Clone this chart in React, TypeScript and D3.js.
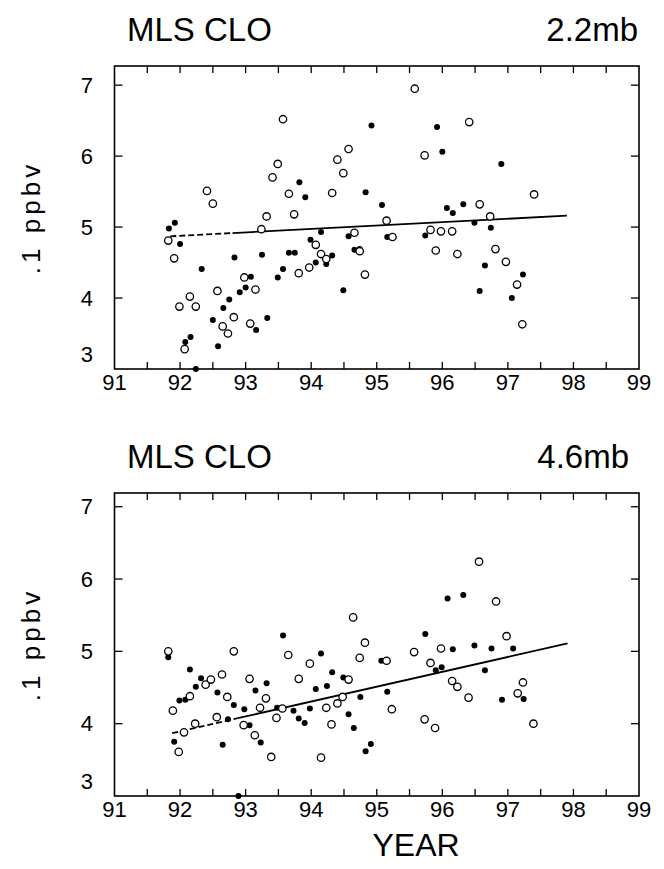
import React from 'react';
import * as d3 from 'd3';

// [year, value] pairs (.1 ppbv)
const topFilled = [
  [91.83, 4.98], [91.92, 5.06], [92.0, 4.76], [92.33, 4.41], [92.08, 3.38], [92.16, 3.45],
  [92.24, 3.0], [92.83, 4.57], [93.08, 4.3], [93.0, 4.15], [92.91, 4.08], [92.75, 3.98],
  [92.66, 3.86], [92.5, 3.69], [93.16, 3.55], [92.58, 3.32], [93.33, 3.72], [93.25, 4.61],
  [93.66, 4.64], [93.75, 4.64], [93.57, 4.41], [93.49, 4.29], [93.82, 5.63], [93.91, 5.42],
  [94.83, 5.49], [94.92, 6.43], [95.08, 5.31], [95.16, 4.86], [94.15, 4.93], [93.99, 4.82],
  [94.32, 4.6], [94.07, 4.5], [94.23, 4.48], [94.57, 4.87], [94.66, 4.68], [94.74, 4.69],
  [94.49, 4.11], [95.92, 6.41], [96.0, 6.06], [96.07, 5.27], [96.16, 5.2], [96.32, 5.32],
  [95.74, 4.88], [96.49, 5.06], [96.65, 4.46], [96.57, 4.1], [96.74, 4.99], [96.9, 5.89],
  [97.23, 4.33], [97.06, 4.0],
];

const topOpen = [
  [91.82, 4.81], [91.91, 4.56], [92.41, 5.51], [92.5, 5.33], [92.15, 4.02], [91.99, 3.88],
  [92.24, 3.88], [92.07, 3.28], [92.57, 4.1], [92.98, 4.29], [93.15, 4.12], [92.82, 3.73],
  [92.65, 3.6], [92.73, 3.5], [93.07, 3.64], [93.24, 4.97], [93.32, 5.15], [93.57, 6.52],
  [93.49, 5.89], [93.41, 5.7], [93.66, 5.47], [93.74, 5.18], [93.81, 4.35], [94.32, 5.48],
  [94.4, 5.95], [94.57, 6.1], [94.49, 5.76], [95.15, 5.09], [95.24, 4.86], [94.07, 4.75],
  [94.15, 4.62], [94.23, 4.55], [93.97, 4.43], [94.66, 4.92], [94.74, 4.66], [94.82, 4.33],
  [95.58, 6.95], [95.73, 6.01], [96.57, 5.32], [96.41, 6.48], [95.82, 4.96], [95.98, 4.94],
  [96.15, 4.94], [95.9, 4.67], [96.23, 4.62], [96.73, 5.15], [97.4, 5.46], [96.81, 4.69],
  [96.97, 4.51], [97.14, 4.19], [97.22, 3.63],
];

const bottomFilled = [
  [91.82, 4.92], [91.99, 4.32], [92.08, 4.33], [92.15, 4.75], [92.24, 4.51], [92.32, 4.63],
  [92.57, 4.43], [92.82, 4.26], [91.91, 3.75], [92.73, 4.06], [92.65, 3.71], [93.06, 3.98],
  [92.98, 4.2], [93.15, 4.46], [93.32, 4.56], [93.23, 3.74], [93.48, 4.22], [93.57, 5.22],
  [93.73, 4.18], [93.81, 4.07], [92.89, 3.0], [93.9, 4.01], [93.98, 4.21], [94.15, 4.97],
  [94.07, 4.48], [94.24, 4.52], [94.32, 4.71], [94.49, 4.64], [94.57, 4.13], [94.65, 3.94],
  [94.83, 3.62], [94.91, 3.72], [94.75, 4.37], [95.07, 4.87], [95.16, 4.44], [95.74, 5.24],
  [95.9, 4.74], [95.99, 4.78], [96.16, 5.03], [96.08, 5.73], [96.32, 5.78], [96.49, 5.08],
  [96.65, 4.74], [96.75, 5.04], [97.08, 5.04], [97.24, 4.34], [96.91, 4.33],
];

const bottomOpen = [
  [91.82, 5.0], [91.89, 4.18], [92.15, 4.38], [92.39, 4.54], [92.47, 4.61], [92.64, 4.68],
  [92.72, 4.37], [92.82, 5.0], [91.98, 3.61], [92.06, 3.88], [92.23, 4.0], [92.56, 4.09],
  [92.97, 3.98], [93.06, 4.62], [93.31, 4.35], [93.22, 4.22], [93.14, 3.84], [93.39, 3.54],
  [93.47, 4.08], [93.56, 4.21], [93.65, 4.95], [93.81, 4.62], [93.98, 4.83], [94.57, 4.61],
  [94.23, 4.22], [94.4, 4.28], [94.48, 4.37], [94.31, 3.99], [94.15, 3.53], [94.64, 5.47],
  [94.82, 5.12], [94.74, 4.91], [95.15, 4.87], [95.23, 4.2], [95.57, 4.99], [95.82, 4.84],
  [95.98, 5.04], [96.15, 4.59], [96.23, 4.51], [96.4, 4.36], [95.73, 4.06], [95.89, 3.94],
  [96.56, 6.24], [96.82, 5.69], [96.98, 5.21], [97.23, 4.57], [97.15, 4.42], [97.39, 4.0],
];

// trend lines: dashed first segment, solid second
const topTrend = [[91.85, 4.87], [92.8, 4.916], [97.9, 5.16]];
const bottomTrend = [[91.88, 3.87], [92.88, 4.076], [97.91, 5.11]];

const yearTicks = [91, 92, 93, 94, 95, 96, 97, 98, 99];
const valueTicks = [3, 4, 5, 6, 7];

const font = '"Liberation Sans", Arial, sans-serif';

const panels = [
  { title: 'MLS CLO', level: '2.2mb', top: 66, bottom: 369, yMax: 7.27, levelX: 638,
    filled: topFilled, open: topOpen, trend: topTrend },
  { title: 'MLS CLO', level: '4.6mb', top: 493, bottom: 796, yMax: 7.19, levelX: 629,
    filled: bottomFilled, open: bottomOpen, trend: bottomTrend },
];

const xScale = d3.scaleLinear().domain([91, 99]).range([114.5, 639]);

const Panel = ({ p, i }) => {
  const yScale = d3.scaleLinear().domain([3, p.yMax]).range([p.bottom, p.top]);
  const line = d3.line().x(d => xScale(d[0])).y(d => yScale(d[1]));
  const halfYears = d3.range(91.5, 99, 0.5);
  const mid = (p.top + p.bottom) / 2;

  return (
    <g>
      <text x={127} y={p.top - 25} fontSize={33} fontFamily={font}>{p.title}</text>
      <text x={p.levelX} y={p.top - 25} fontSize={33} fontFamily={font} textAnchor='end'>{p.level}</text>
      <text
        transform={`translate(31, ${mid}) rotate(-90)`}
        fontSize={26}
        fontFamily={font}
        letterSpacing={4}
        textAnchor='middle'
        dominantBaseline='central'
      >.1 ppbv</text>

      <rect x={xScale(91)} y={p.top} width={xScale(99) - xScale(91)} height={p.bottom - p.top}
        fill='none' stroke='#000' strokeWidth={1.6} />

      {halfYears.map(t => (
        <g key={`xt-${i}-${t}`}>
          <line x1={xScale(t)} x2={xScale(t)} y1={p.bottom} y2={p.bottom - 7} stroke='#000' strokeWidth={1.3} />
          <line x1={xScale(t)} x2={xScale(t)} y1={p.top} y2={p.top + 7} stroke='#000' strokeWidth={1.3} />
        </g>
      ))}
      {valueTicks.filter(v => v > 3).map(v => (
        <g key={`yt-${i}-${v}`}>
          <line x1={xScale(91)} x2={xScale(91) + 8} y1={yScale(v)} y2={yScale(v)} stroke='#000' strokeWidth={1.3} />
          <line x1={xScale(99)} x2={xScale(99) - 8} y1={yScale(v)} y2={yScale(v)} stroke='#000' strokeWidth={1.3} />
        </g>
      ))}

      {yearTicks.map(t => (
        <text key={`xl-${i}-${t}`} x={xScale(t)} y={p.bottom + 21} fontSize={22} fontFamily={font} textAnchor='middle'>{t}</text>
      ))}
      {valueTicks.map(v => (
        <text key={`yl-${i}-${v}`} x={93} y={yScale(v) - (v === 3 ? 15 : 0)} dy='0.35em'
          fontSize={22} fontFamily={font} textAnchor='end'>{v}</text>
      ))}

      <path d={line(p.trend.slice(0, 2))} fill='none' stroke='#000' strokeWidth={1.8} strokeDasharray='6 3' />
      <path d={line(p.trend.slice(1))} fill='none' stroke='#000' strokeWidth={1.8} />

      {p.filled.map((d, k) => (
        <circle key={`f-${i}-${k}`} cx={xScale(d[0])} cy={yScale(d[1])} r={3} fill='#000' />
      ))}
      {p.open.map((d, k) => (
        <circle key={`o-${i}-${k}`} cx={xScale(d[0])} cy={yScale(d[1])} r={3.7} fill='#fff' stroke='#000' strokeWidth={1.3} />
      ))}
    </g>
  );
};

const App = () => (
  <svg width={664} height={869} style={{ position: 'absolute', left: 0, top: 0, background: '#fff' }}>
    <rect width={664} height={869} fill='#fff' />
    {panels.map((p, i) => <Panel key={i} p={p} i={i} />)}
    <text x={xScale(95.6)} y={856} fontSize={32} fontFamily={font} textAnchor='middle'>YEAR</text>
  </svg>
);

export default App;
